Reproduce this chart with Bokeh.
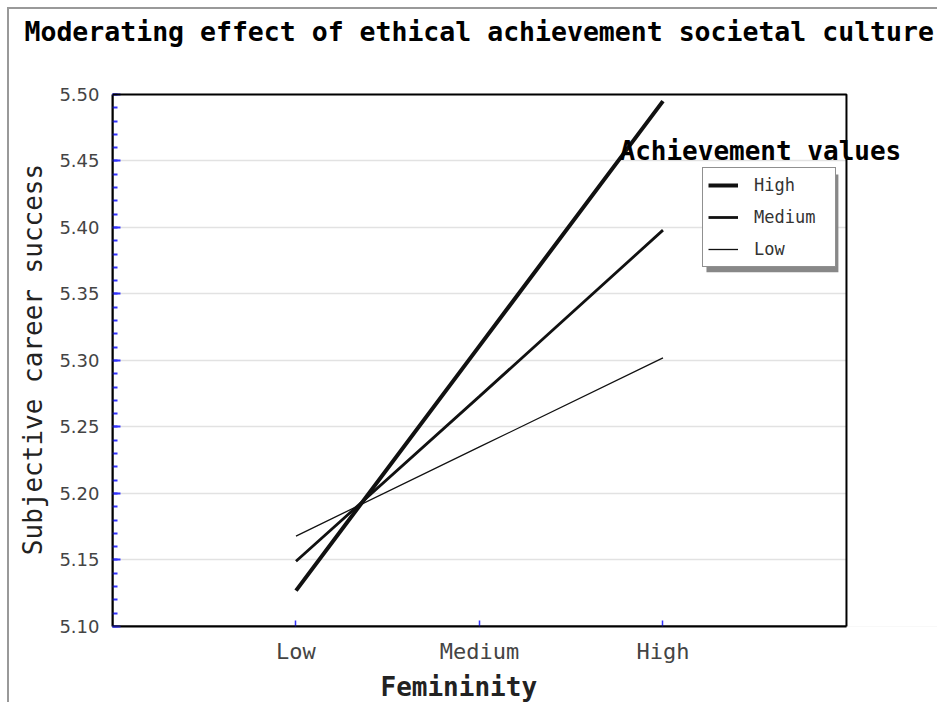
from bokeh.plotting import figure
from bokeh.models import (Legend, LegendItem, Label, BoxAnnotation, FixedTicker,
                          SingleIntervalTicker, Range1d, NumeralTickFormatter, Title)
from bokeh.embed import file_html
from bokeh.resources import INLINE

# ---- data ----
femininity = ["Low", "Medium", "High"]
series_names = ["High", "Medium", "Low"]
high_vals = [5.127, 5.311, 5.495]
medium_vals = [5.149, 5.273, 5.398]
low_vals = [5.168, 5.235, 5.302]
y_ticks_interval = 0.05

xs = [i + 1 for i in range(len(femininity))]
MONO = "DejaVu Sans Mono"

p = figure(width=930, height=695, x_range=Range1d(0, 4.507), y_range=Range1d(5.10, 5.5015),
           output_backend="svg", toolbar_location=None, title_location=None,
           min_border_left=103, min_border_right=0, min_border_top=83, min_border_bottom=77)
p.styles = {"margin-left": "7px", "margin-top": "7px",
            "border-top": "2px solid #999", "border-left": "2px solid #999"}

p.outline_line_color = None
p.background_fill_color = "white"
p.border_fill_color = "white"

# title (a thin spacer title keeps it away from the plot box)
p.add_layout(Title(text=" ", text_font_size="1px", standoff=43), "above")
p.add_layout(Title(text="Moderating effect of ethical achievement societal culture",
                   text_font=MONO, text_font_style="bold", text_font_size="26.5px",
                   text_color="black", align="left", vertical_align="bottom",
                   offset=-88, standoff=0), "above")

# y axis
p.yaxis.ticker = SingleIntervalTicker(interval=y_ticks_interval, num_minor_ticks=5)
p.ygrid.ticker = SingleIntervalTicker(interval=y_ticks_interval)
p.yaxis.bounds = (5.10, 5.50)
p.yaxis.formatter = NumeralTickFormatter(format="0.00")
p.yaxis.axis_label = "Subjective career success"
p.yaxis.axis_label_text_font = MONO
p.yaxis.axis_label_text_font_style = "normal"
p.yaxis.axis_label_text_font_size = "26px"
p.yaxis.axis_label_text_color = "#222"
p.yaxis.axis_label_standoff = 8
p.yaxis.major_label_text_font = "DejaVu Sans"
p.yaxis.major_label_text_font_size = "18px"
p.yaxis.major_label_text_color = "#444"
p.yaxis.major_label_standoff = 13
p.yaxis.major_tick_in = 8
p.yaxis.major_tick_out = 0
p.yaxis.minor_tick_in = 5
p.yaxis.minor_tick_out = 0
p.yaxis.major_tick_line_color = "#3333ff"
p.yaxis.minor_tick_line_color = "#3333ff"
p.yaxis.major_tick_line_width = 2
p.yaxis.minor_tick_line_width = 2
p.yaxis.axis_line_color = "black"
p.yaxis.axis_line_width = 2

# x axis
p.xaxis.ticker = FixedTicker(ticks=xs)
p.xaxis.bounds = (0, 4)
p.xaxis.major_label_overrides = {x: lab for x, lab in zip(xs, femininity)}
p.xaxis.major_label_text_font = MONO
p.xaxis.major_label_text_font_size = "22px"
p.xaxis.major_label_text_color = "#444"
p.xaxis.major_label_standoff = 12
p.xaxis.major_tick_in = 6
p.xaxis.major_tick_out = 0
p.xaxis.minor_tick_in = 0
p.xaxis.minor_tick_out = 0
p.xaxis.major_tick_line_color = "#3333ff"
p.xaxis.major_tick_line_width = 1.5
p.xaxis.axis_line_color = "black"
p.xaxis.axis_line_width = 2

p.add_layout(Title(text="Femininity", text_font=MONO, text_font_style="bold",
                   text_font_size="26px", text_color="#222", align="left",
                   offset=268, standoff=6), "below")

p.xgrid.visible = False
p.ygrid.grid_line_color = "#e2e2e2"
p.ygrid.grid_line_width = 1.5

# white mask right of the visible plot box (hides grid lines there)
p.add_layout(BoxAnnotation(left=4.0, right=5.0, bottom=5.0, top=6.0,
                           fill_color="white", fill_alpha=1.0, line_color=None,
                           level="underlay"))

# lines
widths = [4, 2.8, 1.3]
renderers = []
for vals, lw in zip([high_vals, medium_vals, low_vals], widths):
    r = p.line(xs, vals, line_width=lw, line_color="#111")
    renderers.append(r)

# visible plot box
p.add_layout(BoxAnnotation(left=0, right=4.0, bottom=5.10, top=5.50,
                           fill_alpha=0, line_color="black", line_alpha=1.0, line_width=2))

# legend shadow
p.add_layout(BoxAnnotation(left=3.237, right=3.956, top=5.4399, bottom=5.3664,
                           fill_color="#888", fill_alpha=1.0, line_color=None))

legend = Legend(items=[LegendItem(label=n, renderers=[r]) for n, r in zip(series_names, renderers)],
                location=(590, 359), orientation="vertical",
                label_text_font=MONO, label_text_font_size="17px", label_text_color="#333",
                glyph_width=30, glyph_height=24, label_height=24, label_width=76,
                label_standoff=16, spacing=8, padding=5, margin=0,
                border_line_color="#222", border_line_width=1.5,
                background_fill_color="white", background_fill_alpha=1.0)
p.add_layout(legend)

p.add_layout(Label(x=2.763, y=5.4572, text="Achievement values",
                   text_font=MONO, text_font_style="bold", text_font_size="26px",
                   text_color="black", text_align="left", text_baseline="middle"))

open("out.html", "w").write(file_html(p, INLINE))
